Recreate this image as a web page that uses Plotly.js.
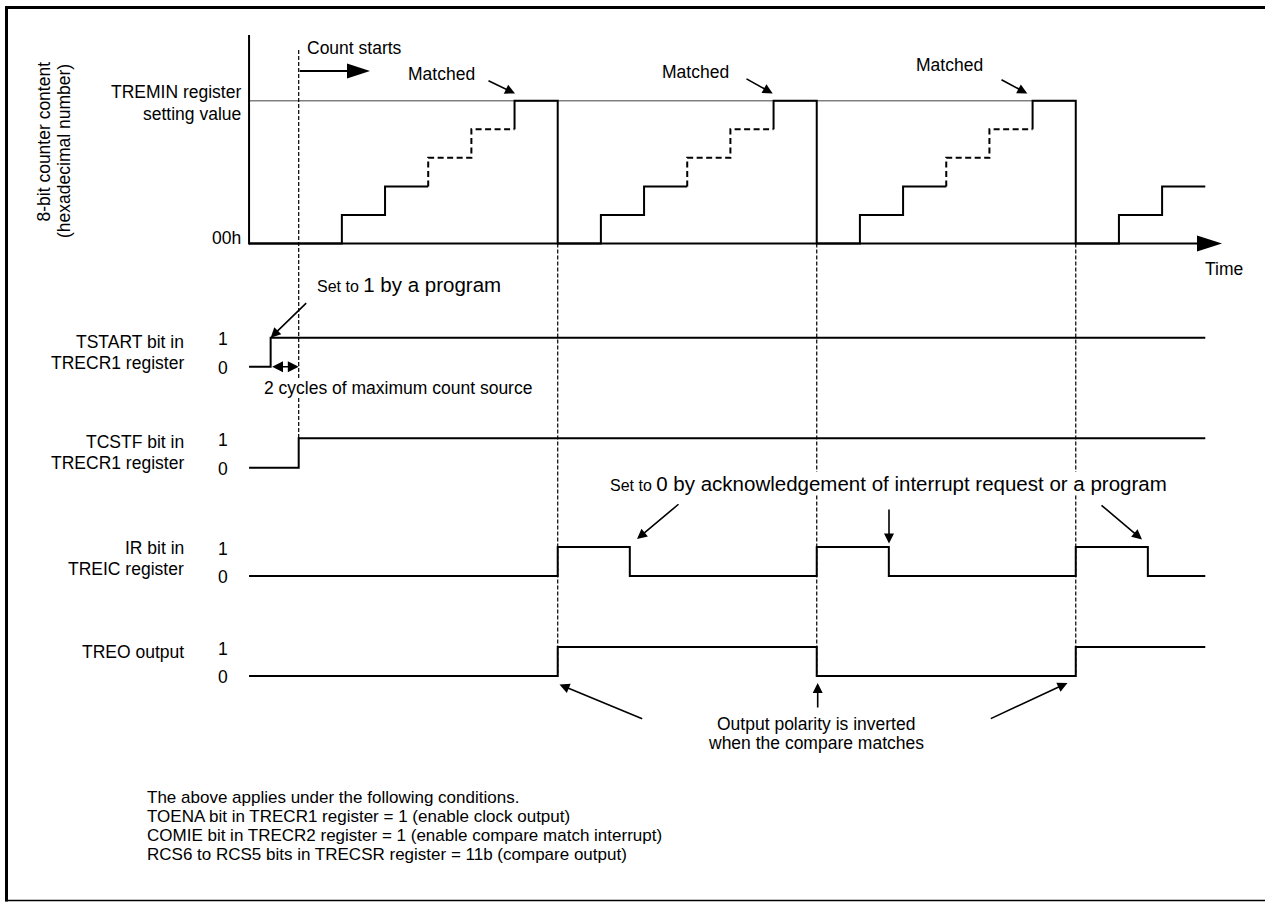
<!DOCTYPE html>
<html>
<head>
<meta charset="utf-8">
<script src="https://cdn.plot.ly/plotly-3.0.1.min.js"></script>
<style>
html,body{margin:0;padding:0;background:#fff;}
#chart{width:1265px;height:902px;}
</style>
</head>
<body>
<div id="chart"></div>
<script>
// ================= DATA (time in count-source cycles, t=0 = count start) =================
const counterTimes  = [-1.15, 1, 2, 3, 4, 5, 6, 7, 8, 9, 10, 11, 12, 13, 14, 15, 16, 17, 18, 19, 20, 21];
const counterValues = [0, 1, 2, 3, 4, 5, 0, 1, 2, 3, 4, 5, 0, 1, 2, 3, 4, 5, 0, 1, 2, 2];
const dashedCounts  = [3, 4];          // counts drawn dashed (omitted steps)
const treminValue   = 5;               // TREMIN register setting value (in steps)
const matchTimes    = [6, 12, 18];     // compare-match instants
const countStartTime = 0;

const tstartTimes  = [-1.15, -0.65, 21];
const tstartValues = [0, 1, 1];
const tcstfTimes   = [-1.15, 0, 21];
const tcstfValues  = [0, 1, 1];
const irTimes      = [-1.15, 6, 7.67, 12, 13.67, 18, 19.67, 21];
const irValues     = [0, 1, 0, 1, 0, 1, 0, 0];
const treoTimes    = [-1.15, 6, 12, 18, 21];
const treoValues   = [0, 1, 0, 1, 1];

const yTitleLines   = ["8-bit counter content", "(hexadecimal number)"];
const treminLabel   = ["TREMIN register", "setting value"];
const zeroLabel     = "00h";
const rowLabels     = [["TSTART bit in", "TRECR1 register"], ["TCSTF bit in", "TRECR1 register"], ["IR bit in", "TREIC register"], ["TREO output"]];
const levelLabels   = ["1", "0"];
const noteLines     = [
  "The above applies under the following conditions.",
  "TOENA bit in TRECR1 register = 1 (enable clock output)",
  "COMIE bit in TRECR2 register = 1 (enable compare match interrupt)",
  "RCS6 to RCS5 bits in TRECSR register = 11b (compare output)"
];

// ================= GEOMETRY =================
const W = 1265, H = 902;
const X0 = 298.7, PXT = 43.17;          // pixel of t=0, pixels per cycle
const PX = p => p / W;
const PY = p => 1 - p / H;
const xOfT = t => X0 + t * PXT;
const tOfX = x => (x - X0) / PXT;

const rows = {
  cnt:    {axis: 'y',  p0: 243.5, unit: 28.56},
  tstart: {axis: 'y2', p0: 366.7, unit: 29.0},
  tcstf:  {axis: 'y3', p0: 467.7, unit: 29.4},
  ir:     {axis: 'y4', p0: 576.0, unit: 29.0},
  treo:   {axis: 'y5', p0: 676.0, unit: 29.0}
};
const pyOf = (r, v) => r.p0 - v * r.unit;
const rangeOf = r => [(r.p0 - H) / r.unit, r.p0 / r.unit];

// ================= TRACES =================
function buildCounter() {
  const solid = {x: [], y: []}, dashed = {x: [], y: []};
  let cur = null, curStyle = null;
  function addSeg(style, p, q) {
    const tgt = style === 'dash' ? dashed : solid;
    if (curStyle === style && cur && cur[0] === p[0] && cur[1] === p[1]) {
      tgt.x.push(q[0]); tgt.y.push(q[1]);
    } else {
      if (curStyle) { const prev = curStyle === 'dash' ? dashed : solid; prev.x.push(null); prev.y.push(null); }
      tgt.x.push(p[0], q[0]); tgt.y.push(p[1], q[1]);
    }
    cur = q; curStyle = style;
  }
  for (let i = 0; i < counterTimes.length - 1; i++) {
    const t0 = counterTimes[i], t1 = counterTimes[i + 1], v0 = counterValues[i], v1 = counterValues[i + 1];
    addSeg(dashedCounts.includes(v0) ? 'dash' : 'solid', [t0, v0], [t1, v0]);
    if (v1 !== v0) addSeg((v1 > v0 && dashedCounts.includes(v1)) ? 'dash' : 'solid', [t1, v0], [t1, v1]);
  }
  return {solid, dashed};
}
const cnt = buildCounter();
const BLACK = '#000000';

const traces = [
  {x: cnt.solid.x, y: cnt.solid.y, yaxis: 'y', mode: 'lines', line: {color: BLACK, width: 2}, hoverinfo: 'skip'},
  {x: cnt.dashed.x, y: cnt.dashed.y, yaxis: 'y', mode: 'lines', line: {color: BLACK, width: 2, dash: '6px,3.5px'}, hoverinfo: 'skip'},
  {x: tstartTimes, y: tstartValues, yaxis: 'y2', mode: 'lines', line: {color: BLACK, width: 2, shape: 'hv'}, hoverinfo: 'skip'},
  {x: tcstfTimes, y: tcstfValues, yaxis: 'y3', mode: 'lines', line: {color: BLACK, width: 2, shape: 'hv'}, hoverinfo: 'skip'},
  {x: irTimes, y: irValues, yaxis: 'y4', mode: 'lines', line: {color: BLACK, width: 2, shape: 'hv'}, hoverinfo: 'skip'},
  {x: treoTimes, y: treoValues, yaxis: 'y5', mode: 'lines', line: {color: BLACK, width: 2, shape: 'hv'}, hoverinfo: 'skip'}
];

// ================= SHAPES =================
const shapes = [];
// frame
shapes.push({type: 'line', xref: 'paper', yref: 'paper', x0: PX(6.5), x1: PX(6.5), y0: PY(6), y1: PY(901.5), line: {color: BLACK, width: 3}});
shapes.push({type: 'line', xref: 'paper', yref: 'paper', x0: PX(5), x1: 1, y0: PY(7.5), y1: PY(7.5), line: {color: BLACK, width: 3}});
shapes.push({type: 'line', xref: 'paper', yref: 'paper', x0: PX(5), x1: 1, y0: PY(900.5), y1: PY(900.5), line: {color: BLACK, width: 1.5}});
// TREMIN level (gray)
shapes.push({type: 'line', xref: 'x', yref: 'y', x0: counterTimes[0], x1: matchTimes[matchTimes.length - 1], y0: treminValue, y1: treminValue, layer: 'below', line: {color: '#808080', width: 1.6}});
// counter vertical axis
shapes.push({type: 'line', xref: 'x', yref: 'paper', x0: counterTimes[0], x1: counterTimes[0], y0: PY(35), y1: PY(pyOf(rows.cnt, 0) + 1), line: {color: BLACK, width: 2}});
// time axis baseline + arrow head
shapes.push({type: 'line', xref: 'x', yref: 'y', x0: counterTimes[0], x1: tOfX(1200), y0: 0, y1: 0, line: {color: BLACK, width: 2}});
(function () {
  const by = pyOf(rows.cnt, 0);
  shapes.push({type: 'path', xref: 'paper', yref: 'paper', fillcolor: BLACK, line: {width: 0},
    path: `M ${PX(1197)} ${PY(by - 8)} L ${PX(1222)} ${PY(by)} L ${PX(1197)} ${PY(by + 8)} Z`});
})();
// dashed guide at count start
shapes.push({type: 'line', xref: 'x', yref: 'paper', x0: countStartTime, x1: countStartTime, y0: PY(50), y1: PY(pyOf(rows.tcstf, 1)), line: {color: BLACK, width: 1.2, dash: '4px,2px'}});
// dashed guides at compare matches
matchTimes.forEach(t => {
  shapes.push({type: 'line', xref: 'x', yref: 'paper', x0: t, x1: t, y0: PY(pyOf(rows.cnt, 0)), y1: PY(pyOf(rows.treo, 0)), line: {color: BLACK, width: 1.2, dash: '4px,2px'}});
});
// "Count starts" arrow
shapes.push({type: 'line', xref: 'paper', yref: 'paper', x0: PX(xOfT(countStartTime) + 1), x1: PX(348), y0: PY(71), y1: PY(71), line: {color: BLACK, width: 2}});
shapes.push({type: 'path', xref: 'paper', yref: 'paper', fillcolor: BLACK, line: {width: 0},
  path: `M ${PX(347)} ${PY(63.5)} L ${PX(370)} ${PY(71)} L ${PX(347)} ${PY(78.5)} Z`});

// ================= ANNOTATIONS =================
const FONT = '"Liberation Sans", Arial, Helvetica, sans-serif';
function txt(text, x, y, o = {}) {
  return Object.assign({text: text, x: PX(x), y: PY(y), xref: 'paper', yref: 'paper', showarrow: false,
    xanchor: 'center', yanchor: 'middle', borderpad: 0, borderwidth: 0,
    font: {family: FONT, size: 17.5, color: BLACK}}, o);
}
function arrow(tail, tip, o = {}) {
  return Object.assign({text: '', x: PX(tip[0]), y: PY(tip[1]), xref: 'paper', yref: 'paper', showarrow: true,
    ax: tail[0] - tip[0], ay: tail[1] - tip[1], arrowhead: 2, arrowsize: 1.25, arrowwidth: 1.6,
    arrowcolor: BLACK, standoff: 0, startstandoff: 0}, o);
}
const ann = [];
// y title
ann.push(txt(yTitleLines[0], 43, 141.5, {textangle: -90}));
ann.push(txt(yTitleLines[1], 63.5, 151.5, {textangle: -90}));
// counter labels
ann.push(txt(treminLabel[0], 241, 92, {xanchor: 'right'}));
ann.push(txt(treminLabel[1], 241, 113.5, {xanchor: 'right'}));
ann.push(txt(zeroLabel, 241, 238, {xanchor: 'right'}));
ann.push(txt('Count starts', 307, 48, {xanchor: 'left'}));
// matched
[[441.5, 74], [695.5, 72.5], [949.7, 65]].forEach(p => ann.push(txt('Matched', p[0], p[1])));
ann.push(arrow([487, 80], [515, 93.5]));
ann.push(arrow([745, 78], [772.7, 93.5]));
ann.push(arrow([1000, 79], [1027.3, 93.5]));
ann.push(txt('Time', 1224, 269));
// row labels
const rowKeys = ['tstart', 'tcstf', 'ir', 'treo'];
const rowLabelY = [[341.7, 363], [441.7, 463.3], [548.3, 569.3], [652.3]];
rowKeys.forEach((k, i) => {
  rowLabels[i].forEach((line, j) => ann.push(txt(line, 183.5, rowLabelY[i][j], {xanchor: 'right'})));
  ann.push(txt(levelLabels[0], 222.7, pyOf(rows[k], 1) + 1.5));
  ann.push(txt(levelLabels[1], 222.7, pyOf(rows[k], 0) + 1));
});
// TSTART annotations
ann.push(txt('<span style="font-size:16px">Set to </span>1 by a program', 317, 284, {xanchor: 'left', font: {family: FONT, size: 20.5, color: BLACK}}));
ann.push(arrow([307.7, 301.7], [xOfT(tstartTimes[1]), pyOf(rows.tstart, 1)]));
ann.push(arrow([xOfT(tstartTimes[1]), pyOf(rows.tstart, 0)], [xOfT(countStartTime), pyOf(rows.tstart, 0)], {arrowside: 'end+start', arrowwidth: 1.5, arrowsize: 1.45}));
ann.push(txt('2 cycles of maximum count source', 398, 388.5, {bgcolor: '#ffffff'}));
// IR annotations
ann.push(txt('<span style="font-size:16px">Set to </span>0 by acknowledgement of interrupt request or a program', 610, 483, {xanchor: 'left', bgcolor: '#ffffff', font: {family: FONT, size: 20.5, color: BLACK}}));
ann.push(arrow([680, 503], [637, 539]));
ann.push(arrow([889, 508], [889, 543.5]));
ann.push(arrow([1100, 504], [1142, 539.5]));
// TREO annotations
ann.push(txt('Output polarity is inverted', 816, 723.5));
ann.push(txt('when the compare matches', 816, 742.5));
ann.push(arrow([643.7, 719.3], [559.5, 684.5]));
ann.push(arrow([817.7, 709], [817.7, 683]));
ann.push(arrow([989.3, 719.3], [1067.5, 683]));
// notes
const noteY = [797.3, 816.2, 835.1, 854];
noteLines.forEach((l, i) => ann.push(txt(l, 147, noteY[i], {xanchor: 'left', font: {family: FONT, size: 17, color: BLACK}})));

// ================= LAYOUT =================
const hiddenAxis = r => ({range: rangeOf(r), domain: [0, 1], visible: false, fixedrange: true, showgrid: false, zeroline: false});
const layout = {
  width: W, height: H,
  margin: {l: 0, r: 0, t: 0, b: 0, pad: 0},
  paper_bgcolor: '#ffffff', plot_bgcolor: '#ffffff',
  showlegend: false,
  xaxis: {range: [tOfX(0), tOfX(W)], domain: [0, 1], visible: false, fixedrange: true, showgrid: false, zeroline: false},
  yaxis: hiddenAxis(rows.cnt),
  yaxis2: Object.assign(hiddenAxis(rows.tstart), {overlaying: 'y'}),
  yaxis3: Object.assign(hiddenAxis(rows.tcstf), {overlaying: 'y'}),
  yaxis4: Object.assign(hiddenAxis(rows.ir), {overlaying: 'y'}),
  yaxis5: Object.assign(hiddenAxis(rows.treo), {overlaying: 'y'}),
  shapes: shapes,
  annotations: ann,
  font: {family: FONT, size: 17.5, color: BLACK}
};
Plotly.newPlot('chart', traces, layout, {displayModeBar: false, staticPlot: true});
</script>
</body>
</html>
